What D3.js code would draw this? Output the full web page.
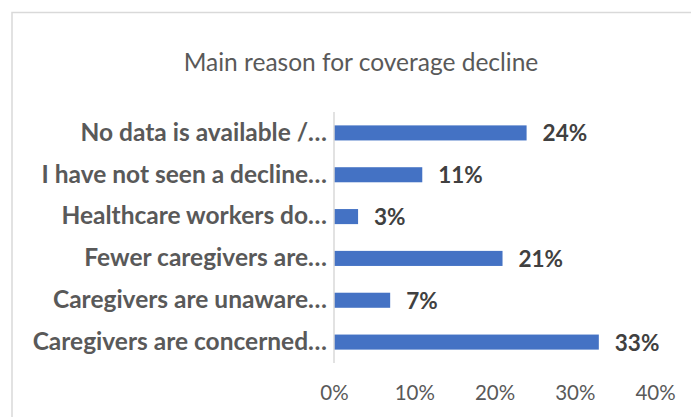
<!DOCTYPE html>
<html>
<head>
<meta charset="utf-8">
<script src="https://cdn.jsdelivr.net/npm/d3@7"></script>
<style>
  html, body { margin: 0; padding: 0; background: #fff; }
  svg { display: block; }
</style>
</head>
<body>
<svg id="chart" width="691" height="417"></svg>
<script>
// Survey responses: main reason for the decline in coverage
const categories = [
  "No data is available /…",
  "I have not seen a decline…",
  "Healthcare workers do…",
  "Fewer caregivers are…",
  "Caregivers are unaware…",
  "Caregivers are concerned…"
];
const values = [0.24, 0.11, 0.03, 0.21, 0.07, 0.33];
const tickValues = [0, 0.1, 0.2, 0.3, 0.4];
const title = "Main reason for coverage decline";

const svg = d3.select("#chart");
const font = "Lato, 'Open Sans', sans-serif";

// Chart frame
svg.append("rect")
  .attr("x", 12).attr("y", 12.5)
  .attr("width", 720).attr("height", 430)
  .attr("fill", "#fff")
  .attr("stroke", "#d9d9d9")
  .attr("stroke-width", 1.5);

// Title
svg.append("text")
  .attr("x", 361).attr("y", 61)
  .attr("text-anchor", "middle")
  .attr("dominant-baseline", "central")
  .attr("font-family", font)
  .attr("font-size", 24.5)
  .attr("fill", "#595959")
  .text(title);

const x = d3.scaleLinear().domain([0, 0.4]).range([334, 655]);
const y = d3.scaleBand().domain(categories).range([112, 363])
  .paddingInner(0.64).paddingOuter(0.32);

// Bars
svg.append("g").selectAll("rect")
  .data(categories)
  .join("rect")
  .attr("x", x(0))
  .attr("y", d => y(d))
  .attr("width", (d, i) => x(values[i]) - x(0))
  .attr("height", y.bandwidth())
  .attr("fill", "#4472c4");

// Value axis (bottom, labels only)
const xAxis = d3.axisBottom(x)
  .tickValues(tickValues)
  .tickFormat(d3.format(".0%"))
  .tickSize(0)
  .tickPadding(0);
const gx = svg.append("g").attr("transform", "translate(0,393)").call(xAxis);
gx.select(".domain").remove();
gx.selectAll("text")
  .attr("dy", "0.35em")
  .attr("font-family", font)
  .attr("font-size", 20.5)
  .attr("fill", "#595959");

// Category axis (left)
const yAxis = d3.axisLeft(y).tickSize(0).tickPadding(7);
const gy = svg.append("g").attr("transform", `translate(${x(0)},0)`).call(yAxis);
gy.select(".domain")
  .attr("stroke", "#d9d9d9")
  .attr("stroke-width", 1.5)
  .attr("d", `M0,112V363`);
gy.selectAll("text")
  .attr("font-family", font)
  .attr("font-size", 24.5)
  .attr("font-weight", "bold")
  .attr("fill", "#595959");

// Value labels
svg.append("g").selectAll("text")
  .data(categories)
  .join("text")
  .attr("x", (d, i) => x(values[i]) + 16)
  .attr("y", d => y(d) + y.bandwidth() / 2)
  .attr("dominant-baseline", "central")
  .attr("font-family", font)
  .attr("font-size", 22.5)
  .attr("font-weight", "bold")
  .attr("fill", "#404040")
  .text((d, i) => d3.format(".0%")(values[i]));
</script>
</body>
</html>
